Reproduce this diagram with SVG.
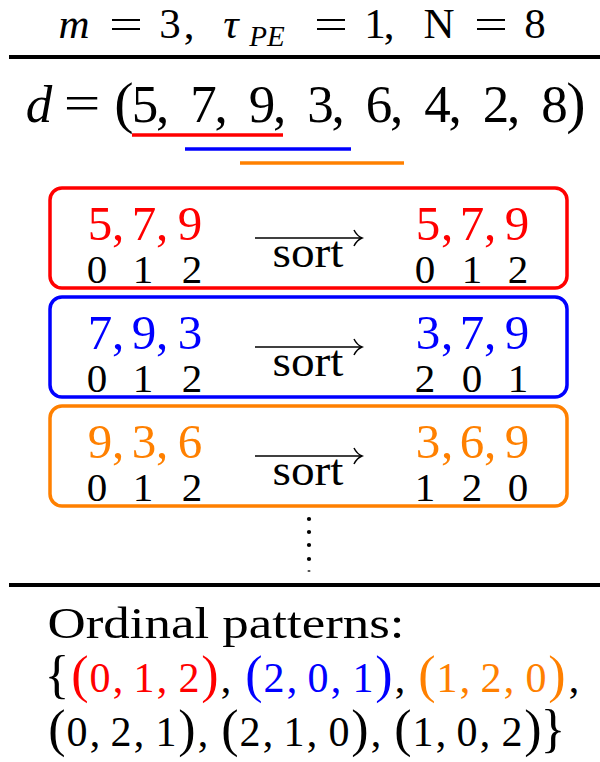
<svg xmlns="http://www.w3.org/2000/svg" width="600" height="762" viewBox="0 0 600 762" font-family="Liberation Serif, serif">
<style>
text{font-family:"Liberation Serif",serif;text-anchor:middle;fill:#000}
.i{font-style:italic}
.r{fill:#ff0000}.b{fill:#0000ff}.o{fill:#ff8000}
.box{fill:none;stroke-width:3.5}
.rule{stroke:#000;stroke-width:4}
.ul{stroke-width:3.5}
.arr{stroke:#000;stroke-width:1.5;fill:none;marker-end:url(#ah)}
.idx{font-size:41px}
.num{font-size:49px}
.sort{font-size:45px}
.p{font-size:52px}
</style>
<defs>
<marker id="ah" markerUnits="userSpaceOnUse" markerWidth="14" markerHeight="20" refX="10" refY="10" orient="auto" viewBox="0 0 14 20">
<path d="M2,2 Q5,8 10,10 Q5,12 2,18" fill="none" stroke="#000" stroke-width="1.5"/>
</marker>
</defs>

<g id="header">
<text y="38" font-size="43"><tspan x="74" class="i">m</tspan><tspan x="170">3</tspan><tspan x="189">,</tspan><tspan x="231" class="i">τ</tspan><tspan x="267" y="46" font-size="29" class="i">PE</tspan><tspan x="375" y="38">1</tspan><tspan x="389">,</tspan><tspan x="439">N</tspan><tspan x="535">8</tspan></text>
<text font-size="43" transform="translate(126,38) scale(1.4,1)">=</text>
<text font-size="43" transform="translate(331,38) scale(1.4,1)">=</text>
<text font-size="43" transform="translate(491,38) scale(1.4,1)">=</text>
<line class="rule" x1="9" y1="57" x2="600" y2="57"/>
</g>

<g id="series">
<text y="122" font-size="53"><tspan x="39" class="i">d</tspan><tspan x="124" font-size="58">(</tspan><tspan x="145">5</tspan><tspan x="162.5">,</tspan><tspan x="203.5">7</tspan><tspan x="221">,</tspan><tspan x="262">9</tspan><tspan x="279.5">,</tspan><tspan x="320.5">3</tspan><tspan x="338">,</tspan><tspan x="379">6</tspan><tspan x="396.5">,</tspan><tspan x="437.5">4</tspan><tspan x="455">,</tspan><tspan x="496">2</tspan><tspan x="513.5">,</tspan><tspan x="554.5">8</tspan><tspan x="576" font-size="58">)</tspan></text>
<text font-size="50" transform="translate(82,120) scale(1.3,1)">=</text>
<line class="ul" stroke="#ff0000" x1="132" y1="135" x2="283" y2="135"/>
<line class="ul" stroke="#0000ff" x1="185" y1="149" x2="351" y2="149"/>
<line class="ul" stroke="#ff8000" x1="240" y1="163" x2="404" y2="163"/>
</g>

<g id="box-red">
<rect class="box" stroke="#ff0000" x="50" y="188" width="517" height="100" rx="12"/>
<text class="num r" y="240"><tspan x="100">5</tspan><tspan x="118">,</tspan><tspan x="144">7</tspan><tspan x="162">,</tspan><tspan x="190">9</tspan></text>
<text class="idx" y="283"><tspan x="97">0</tspan><tspan x="143">1</tspan><tspan x="192">2</tspan></text>
<text class="num r" y="240"><tspan x="428">5</tspan><tspan x="447">,</tspan><tspan x="472">7</tspan><tspan x="490">,</tspan><tspan x="517">9</tspan></text>
<text class="idx" y="283"><tspan x="425">0</tspan><tspan x="472">1</tspan><tspan x="518">2</tspan></text>
</g>

<g id="box-blue">
<rect class="box" stroke="#0000ff" x="50" y="297" width="517" height="100" rx="12"/>
<text class="num b" y="349"><tspan x="100">7</tspan><tspan x="118">,</tspan><tspan x="144">9</tspan><tspan x="162">,</tspan><tspan x="190">3</tspan></text>
<text class="idx" y="392"><tspan x="97">0</tspan><tspan x="143">1</tspan><tspan x="192">2</tspan></text>
<text class="num b" y="349"><tspan x="428">3</tspan><tspan x="447">,</tspan><tspan x="472">7</tspan><tspan x="490">,</tspan><tspan x="517">9</tspan></text>
<text class="idx" y="392"><tspan x="425">2</tspan><tspan x="472">0</tspan><tspan x="518">1</tspan></text>
</g>

<g id="box-orange">
<rect class="box" stroke="#ff8000" x="50" y="406" width="517" height="100" rx="12"/>
<text class="num o" y="458"><tspan x="100">9</tspan><tspan x="118">,</tspan><tspan x="144">3</tspan><tspan x="162">,</tspan><tspan x="190">6</tspan></text>
<text class="idx" y="501"><tspan x="97">0</tspan><tspan x="143">1</tspan><tspan x="192">2</tspan></text>
<text class="num o" y="458"><tspan x="428">3</tspan><tspan x="447">,</tspan><tspan x="472">6</tspan><tspan x="490">,</tspan><tspan x="517">9</tspan></text>
<text class="idx" y="501"><tspan x="425">1</tspan><tspan x="472">2</tspan><tspan x="518">0</tspan></text>
</g>

<g id="connectors">
<line class="arr" x1="255" y1="238" x2="362" y2="238"/>
<line class="arr" x1="255" y1="347" x2="362" y2="347"/>
<line class="arr" x1="255" y1="456" x2="362" y2="456"/>
<text class="sort" x="308" y="267" textLength="71" lengthAdjust="spacingAndGlyphs">sort</text>
<text class="sort" x="308" y="376" textLength="71" lengthAdjust="spacingAndGlyphs">sort</text>
<text class="sort" x="308" y="485" textLength="71" lengthAdjust="spacingAndGlyphs">sort</text>
</g>

<g id="vdots">
<circle cx="309" cy="519" r="2.1"/>
<circle cx="309" cy="532" r="2.1"/>
<circle cx="309" cy="545" r="2.1"/>
<circle cx="309" cy="559" r="2.1"/>
<ellipse cx="309" cy="571" rx="1.6" ry="0.8"/>
<line class="rule" x1="9" y1="585" x2="600" y2="585"/>
</g>

<g id="patterns">
<text x="226" y="638" font-size="45" textLength="357" lengthAdjust="spacingAndGlyphs">Ordinal patterns:</text>
<text y="692" font-size="42"><tspan x="57" class="p">{</tspan><tspan class="r p" x="80">(</tspan><tspan class="r" x="100">0</tspan><tspan class="r" x="118">,</tspan><tspan class="r" x="144">1</tspan><tspan class="r" x="162">,</tspan><tspan class="r" x="189">2</tspan><tspan class="r p" x="210">)</tspan><tspan x="226">,</tspan><tspan class="b p" x="254">(</tspan><tspan class="b" x="274">2</tspan><tspan class="b" x="292">,</tspan><tspan class="b" x="318">0</tspan><tspan class="b" x="336">,</tspan><tspan class="b" x="363">1</tspan><tspan class="b p" x="384">)</tspan><tspan x="400">,</tspan><tspan class="o p" x="427">(</tspan><tspan class="o" x="447">1</tspan><tspan class="o" x="465">,</tspan><tspan class="o" x="491">2</tspan><tspan class="o" x="509">,</tspan><tspan class="o" x="536">0</tspan><tspan class="o p" x="557">)</tspan><tspan x="574">,</tspan></text>
<text y="746" font-size="42"><tspan class="p" x="57">(</tspan><tspan x="77">0</tspan><tspan x="95">,</tspan><tspan x="121">2</tspan><tspan x="139">,</tspan><tspan x="166">1</tspan><tspan class="p" x="187">)</tspan><tspan x="203">,</tspan><tspan class="p" x="230">(</tspan><tspan x="250">2</tspan><tspan x="268">,</tspan><tspan x="294">1</tspan><tspan x="312">,</tspan><tspan x="339">0</tspan><tspan class="p" x="360">)</tspan><tspan x="376">,</tspan><tspan class="p" x="403">(</tspan><tspan x="423">1</tspan><tspan x="441">,</tspan><tspan x="467">0</tspan><tspan x="485">,</tspan><tspan x="512">2</tspan><tspan class="p" x="533">)</tspan><tspan class="p" x="553">}</tspan></text>
</g>
</svg>
